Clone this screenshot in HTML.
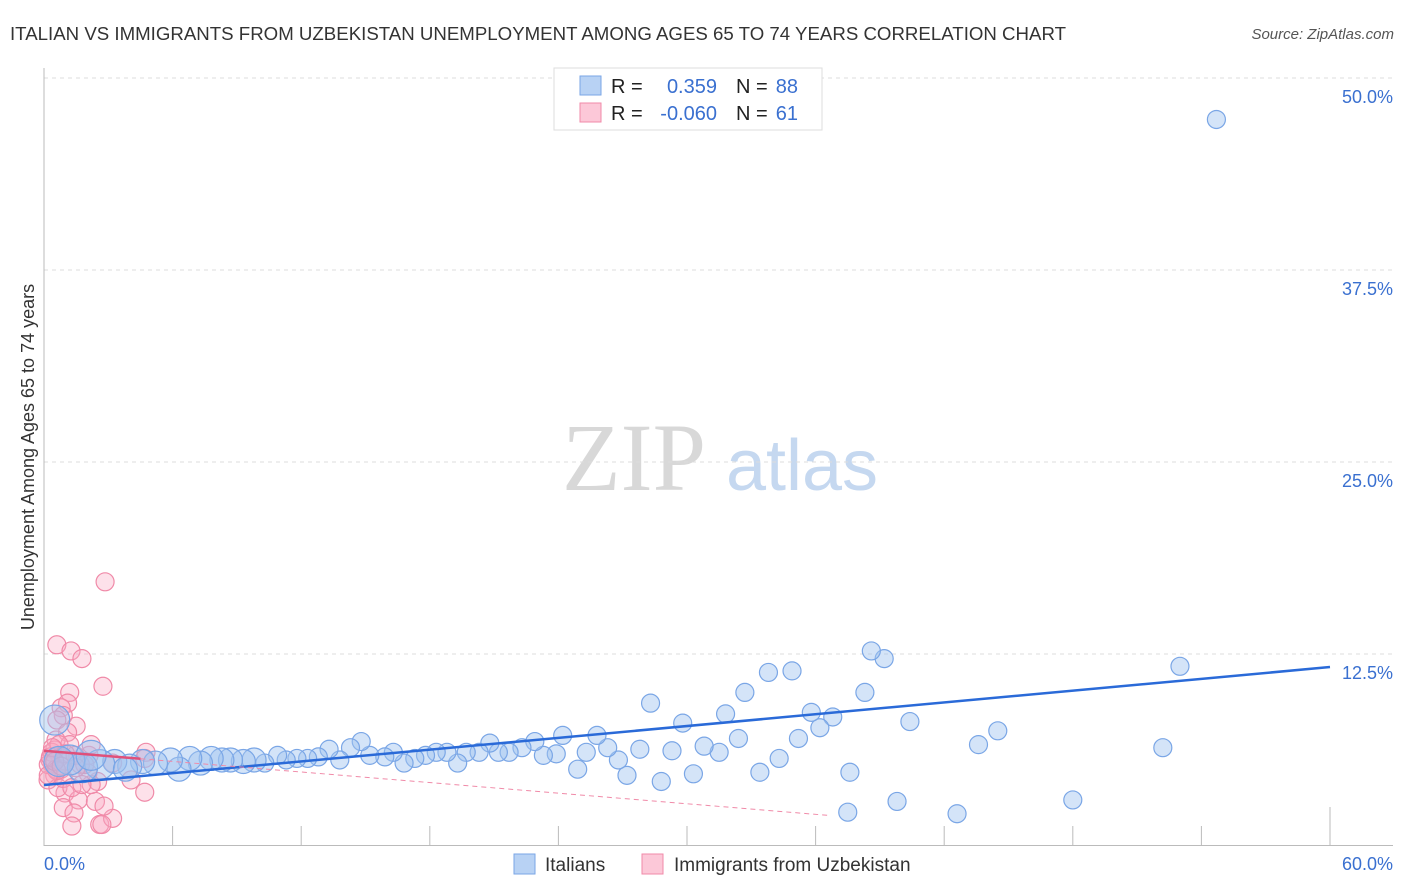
<!DOCTYPE html>
<html><head><meta charset="utf-8"><style>
body{margin:0;background:#fff;}
svg{display:block;font-family:"Liberation Sans",sans-serif;}
</style></head><body>
<svg id="chart" width="1406" height="892" viewBox="0 0 1406 892">
<text x="10" y="40" font-size="18" fill="#333" textLength="1056" lengthAdjust="spacingAndGlyphs">ITALIAN VS IMMIGRANTS FROM UZBEKISTAN UNEMPLOYMENT AMONG AGES 65 TO 74 YEARS CORRELATION CHART</text>
<text x="1394" y="39" font-size="15" fill="#555" text-anchor="end" font-style="italic">Source: ZipAtlas.com</text>
<text transform="translate(34,457) rotate(-90)" font-size="18" fill="#333" text-anchor="middle">Unemployment Among Ages 65 to 74 years</text>
<g><text x="634" y="490" font-family="Liberation Serif,serif" font-size="96" fill="#d8d8d8" text-anchor="middle">ZIP</text><text x="802" y="490" font-size="72" fill="#c5d8f0" text-anchor="middle">atlas</text></g>
<g id="grid"></g><g id="axes"></g>
<g id="pink"></g><g id="blue"></g><g id="lines"></g>
<g>
<rect x="554" y="68" width="268" height="62" fill="#fff" stroke="#ddd"/>
<rect x="580" y="76" width="21" height="19" fill="#b8d2f4" stroke="#7aa6e6"/>
<rect x="580" y="103" width="21" height="19" fill="#fcc8d8" stroke="#f08aa8"/>
<g font-size="20" fill="#222"><text x="611" y="93">R =</text><text x="611" y="120">R =</text><text x="736" y="93">N =</text><text x="736" y="120">N =</text></g>
<g font-size="20" fill="#3a70d0"><text x="717" y="93" text-anchor="end">0.359</text><text x="717" y="120" text-anchor="end">-0.060</text><text x="798" y="93" text-anchor="end">88</text><text x="798" y="120" text-anchor="end">61</text></g>
</g>
<g>
<rect x="514" y="854" width="21" height="20" fill="#b8d2f4" stroke="#7aa6e6"/>
<text x="545" y="871" font-size="19" fill="#333">Italians</text>
<rect x="642" y="854" width="21" height="20" fill="#fcc8d8" stroke="#f08aa8"/>
<text x="674" y="871" font-size="19" fill="#333">Immigrants from Uzbekistan</text>
</g>
</svg>
<script>
const yTicks=[12.5,25,37.5,50];
const yTickLabels=["12.5%","25.0%","37.5%","50.0%"];
const xTicks=[0,6,12,18,24,30,36,42,48,54,60];
const xEndLabels=["0.0%","60.0%"];
const blueX=[54.7,53.0,52.2,48.0,44.5,43.6,42.6,40.4,39.8,39.2,38.6,38.3,37.6,37.5,36.8,36.2,35.8,35.2,34.9,34.3,33.8,33.4,32.7,32.4,31.8,31.5,30.8,30.3,29.8,29.3,28.8,28.3,27.8,27.2,26.8,26.3,25.8,25.3,24.9,24.2,23.9,23.3,22.9,22.3,21.7,21.2,20.8,20.3,19.7,19.3,18.8,18.3,17.8,17.3,16.8,16.3,15.9,15.2,14.8,14.3,13.8,13.3,12.8,12.3,11.8,11.3,10.9,10.3,9.8,9.3,8.7,8.3,7.8,7.3,6.8,6.3,5.9,5.2,4.6,4.0,3.3,2.6,1.8,1.2,0.5,0.7,2.2,3.8];
const blueY=[47.3,11.7,6.4,3.0,7.5,6.6,2.1,8.1,2.9,12.2,12.7,10.0,4.8,2.2,8.4,7.7,8.7,7.0,11.4,5.7,11.3,4.8,10.0,7.0,8.6,6.1,6.5,4.7,8.0,6.2,4.2,9.3,6.3,4.6,5.6,6.4,7.2,6.1,5.0,7.2,6.0,5.9,6.8,6.4,6.1,6.1,6.7,6.1,6.1,5.4,6.1,6.1,5.9,5.7,5.4,6.1,5.8,5.9,6.8,6.4,5.6,6.3,5.8,5.7,5.7,5.6,5.9,5.4,5.6,5.5,5.6,5.6,5.7,5.4,5.7,5.0,5.6,5.4,5.5,5.2,5.5,5.3,5.1,5.6,8.2,5.5,5.9,5.0];
const pinkX=[2.85,0.6,1.26,1.77,2.75,1.2,1.1,0.8,0.9,1.5,0.6,1.1,0.56,1.2,0.5,0.75,0.4,0.8,0.5,4.76,4.7,4.06,4.7,2.5,0.98,1.6,2.4,0.9,1.4,1.3,2.6,3.2,2.7,2.8,2.05,2.2,0.28,0.19,0.65,3.2,2.1,1.7,1.0,0.37,1.45,0.7,1.9,0.9,1.3,2.2,0.2,0.56,1.77,0.3,0.4,1.0,0.6,0.2,1.5,0.5,0.8];
const pinkY=[17.2,13.1,12.7,12.2,10.4,10.0,9.3,9.0,8.5,7.8,8.2,7.4,6.9,6.6,6.25,5.8,5.3,5.0,4.6,6.1,5.7,4.3,3.5,4.2,3.45,3.0,2.9,2.5,2.15,1.3,1.4,1.8,1.4,2.6,4.75,4.0,5.6,4.3,3.8,5.4,5.9,5.3,5.5,6.1,5.9,6.6,5.3,4.4,3.8,6.6,5.3,5.0,4.0,5.8,6.4,6.0,4.9,4.6,5.1,5.5,5.2];
const blueTrend=[[0,3.97],[60,11.65]];
const pinkTrendSolid=[[0,6.2],[4.5,5.68]];
const pinkTrendDash=[[4.5,5.68],[36.7,1.98]];

const NS="http://www.w3.org/2000/svg";
const sx=v=>44+v*(1286/60);
const sy=v=>846-v*15.36;
function mk(tag,attrs,parent){const e=document.createElementNS(NS,tag);for(const k in attrs)e.setAttribute(k,attrs[k]);parent.appendChild(e);return e;}
const grid=document.getElementById('grid'),axes=document.getElementById('axes');
yTicks.forEach((t,i)=>{
  const l=mk('line',{x1:44,x2:1393,y1:sy(t),y2:sy(t),stroke:'#ddd','stroke-dasharray':'4,4'},grid);
  
  
  const tx=mk('text',{x:1393,y:sy(t)+25,'font-size':18,fill:'#3a70d0','text-anchor':'end'},grid);
  tx.textContent=yTickLabels[i];
  
  
});
let a=mk('line',{x1:44,x2:44,y1:68,y2:846,stroke:'#bbb'},axes);


a=mk('line',{x1:44,x2:1393,y1:845.5,y2:845.5,stroke:'#bbb'},axes);


xTicks.forEach((t,i)=>{
  if(t===0)return;
  const top=(i===xTicks.length-1)?807:826;
  const l=mk('line',{x1:sx(t),x2:sx(t),y1:top,y2:846,stroke:'#bbb'},axes);
  
  
});
let xl=mk('text',{x:44,y:870,'font-size':18,fill:'#3a70d0'},axes);xl.textContent=xEndLabels[0];


xl=mk('text',{x:1393,y:870,'font-size':18,fill:'#3a70d0','text-anchor':'end'},axes);xl.textContent=xEndLabels[1];


const pg=document.getElementById('pink');
pinkX.forEach((x,i)=>{
  const c=mk('circle',{cx:sx(x),cy:sy(pinkY[i]),r:9,fill:'rgba(248,170,195,0.35)',stroke:'#f08aa8','stroke-width':1.2},pg);
  
  
});
const bg=document.getElementById('blue');
blueX.forEach((x,i)=>{
  const r=x<3?15:(x<10?12:9);
  const c=mk('circle',{cx:sx(x),cy:sy(blueY[i]),r:r,fill:'rgba(160,196,240,0.45)',stroke:'#7aa6e6','stroke-width':1.2},bg);
  
  
});
const lg=document.getElementById('lines');
let tl=mk('line',{x1:sx(blueTrend[0][0]),y1:sy(blueTrend[0][1]),x2:sx(blueTrend[1][0]),y2:sy(blueTrend[1][1]),stroke:'#2a6ad8','stroke-width':2.5},lg);


tl=mk('line',{x1:sx(pinkTrendSolid[0][0]),y1:sy(pinkTrendSolid[0][1]),x2:sx(pinkTrendSolid[1][0]),y2:sy(pinkTrendSolid[1][1]),stroke:'#e0507a','stroke-width':2.5},lg);


tl=mk('line',{x1:sx(pinkTrendDash[0][0]),y1:sy(pinkTrendDash[0][1]),x2:sx(pinkTrendDash[1][0]),y2:sy(pinkTrendDash[1][1]),stroke:'#f08aa8','stroke-width':1,'stroke-dasharray':'5,4'},lg);


</script>
</body></html>
